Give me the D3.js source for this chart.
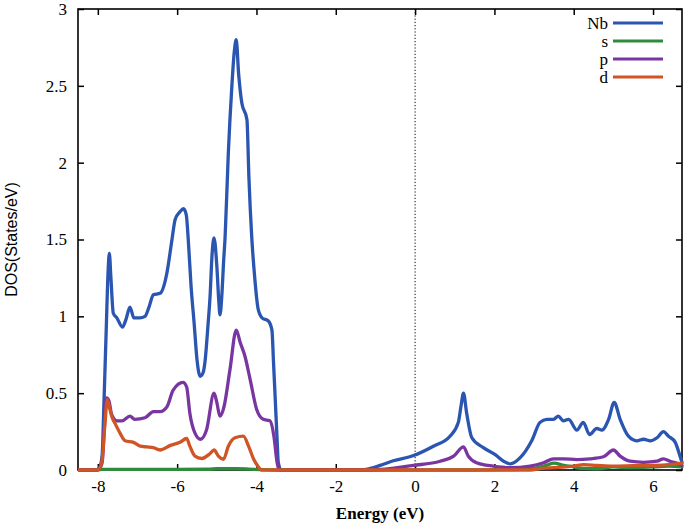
<!DOCTYPE html>
<html>
<head>
<meta charset="utf-8">
<script src="https://cdn.jsdelivr.net/npm/d3@7"></script>
<style>
  html, body { margin: 0; padding: 0; background: #fff; }
  svg { display: block; }
</style>
</head>
<body>
<svg id="chart" width="685" height="526"></svg>
<script>
// ---------- DATA ----------
const seriesNames = ["Nb", "s", "p", "d"];
const seriesColors = ["#2a55b0", "#2e8b3e", "#7a36a0", "#d05424"];

const xTicks = [-8, -6, -4, -2, 0, 2, 4, 6];
const yTicks = [0, 0.5, 1, 1.5, 2, 2.5, 3];

const nbEnergy = [-8.5, -8.03, -7.95, -7.89, -7.85, -7.79, -7.74, -7.71, -7.67, -7.61, -7.52, -7.38, -7.29, -7.19, -7.09, -6.94, -6.81, -6.71, -6.60, -6.43, -6.26, -6.13, -6.05, -5.93, -5.84, -5.77, -5.72, -5.65, -5.57, -5.50, -5.42, -5.35, -5.30, -5.22, -5.17, -5.12, -5.07, -5.00, -4.95, -4.92, -4.87, -4.83, -4.79, -4.71, -4.62, -4.56, -4.51, -4.45, -4.37, -4.24, -4.19, -4.12, -4.04, -3.96, -3.86, -3.70, -3.61, -3.57, -3.53, -3.48, -3.45, -3.38, -1.34, -1.13, -0.88, -0.55, -0.04, 0.46, 0.88, 1.09, 1.16, 1.22, 1.30, 1.43, 1.72, 2.02, 2.23, 2.40, 2.65, 2.94, 3.15, 3.32, 3.49, 3.61, 3.74, 3.87, 4.08, 4.24, 4.40, 4.58, 4.71, 4.88, 5.02, 5.17, 5.38, 5.59, 5.76, 5.93, 6.10, 6.26, 6.39, 6.56, 6.68, 6.73];
const nbValues = [0, 0, 0.02, 0.1, 0.4, 0.9, 1.3, 1.41, 1.25, 1.02, 0.99, 0.93, 0.98, 1.06, 0.99, 0.99, 1.0, 1.06, 1.14, 1.15, 1.28, 1.5, 1.63, 1.68, 1.70, 1.66, 1.50, 1.20, 0.95, 0.72, 0.61, 0.63, 0.70, 0.95, 1.13, 1.40, 1.51, 1.33, 1.10, 1.01, 1.15, 1.35, 1.52, 2.06, 2.50, 2.72, 2.80, 2.58, 2.39, 2.28, 1.90, 1.52, 1.24, 1.05, 0.99, 0.97, 0.91, 0.70, 0.48, 0.20, 0.05, 0, 0, 0.01, 0.03, 0.06, 0.094, 0.155, 0.22, 0.31, 0.42, 0.50, 0.37, 0.21, 0.146, 0.10, 0.057, 0.04, 0.08, 0.19, 0.31, 0.33, 0.33, 0.35, 0.32, 0.33, 0.26, 0.31, 0.23, 0.27, 0.26, 0.33, 0.44, 0.33, 0.22, 0.19, 0.20, 0.19, 0.21, 0.25, 0.22, 0.18, 0.09, 0.05];

const sEnergy = [-8.5, -8.0, -7.9, -6.0, -5.2, -5.0, -4.5, -4.2, -3.9, -3.5, 1.5, 2.5, 3.0, 3.3, 3.5, 3.75, 4.0, 4.25, 4.6, 5.0, 5.4, 6.0, 6.4, 6.73];
const sValues = [0, 0, 0.004, 0.004, 0.005, 0.008, 0.008, 0.006, 0.003, 0, 0, 0.003, 0.01, 0.03, 0.045, 0.03, 0.02, 0.01, 0.008, 0.02, 0.015, 0.02, 0.025, 0.02];

const pEnergy = [-8.5, -8.03, -7.93, -7.89, -7.83, -7.78, -7.72, -7.65, -7.52, -7.39, -7.19, -7.07, -6.81, -6.60, -6.43, -6.26, -6.10, -5.85, -5.76, -5.68, -5.55, -5.41, -5.26, -5.07, -5.00, -4.92, -4.82, -4.67, -4.51, -4.41, -4.29, -4.16, -3.99, -3.83, -3.66, -3.56, -3.48, -3.43, -1.1, -0.04, 0.63, 0.97, 1.22, 1.34, 1.55, 1.97, 2.40, 2.90, 3.24, 3.49, 3.74, 4.08, 4.41, 4.75, 5.00, 5.17, 5.42, 5.76, 6.10, 6.26, 6.43, 6.68, 6.73];
const pValues = [0, 0, 0.02, 0.05, 0.3, 0.47, 0.45, 0.36, 0.32, 0.32, 0.35, 0.33, 0.34, 0.38, 0.38, 0.41, 0.52, 0.57, 0.54, 0.37, 0.24, 0.20, 0.26, 0.50, 0.44, 0.35, 0.41, 0.65, 0.91, 0.83, 0.74, 0.59, 0.39, 0.33, 0.32, 0.22, 0.05, 0, 0, 0.03, 0.057, 0.09, 0.15, 0.09, 0.047, 0.025, 0.015, 0.025, 0.047, 0.073, 0.073, 0.068, 0.073, 0.086, 0.13, 0.09, 0.057, 0.05, 0.057, 0.073, 0.057, 0.036, 0.03];

const dEnergy = [-8.5, -8.0, -7.90, -7.82, -7.76, -7.70, -7.65, -7.56, -7.44, -7.31, -7.10, -6.93, -6.76, -6.60, -6.43, -6.17, -5.93, -5.76, -5.68, -5.55, -5.38, -5.17, -5.07, -4.96, -4.83, -4.71, -4.54, -4.33, -4.20, -4.07, -3.95, -3.88, 2.9, 3.2, 3.5, 3.8, 4.0, 4.25, 4.58, 5.0, 5.5, 6.0, 6.4, 6.73];
const dValues = [0, 0, 0.05, 0.3, 0.46, 0.40, 0.35, 0.30, 0.24, 0.19, 0.18, 0.155, 0.15, 0.145, 0.13, 0.16, 0.18, 0.205, 0.155, 0.09, 0.075, 0.107, 0.13, 0.09, 0.07, 0.155, 0.21, 0.22, 0.155, 0.07, 0.02, 0, 0, 0.01, 0.015, 0.02, 0.025, 0.035, 0.03, 0.025, 0.028, 0.03, 0.035, 0.045];

const xLabel = "Energy (eV)";
const yLabel = "DOS(States/eV)";

// ---------- LAYOUT ----------
const svg = d3.select("#chart");
const L = 78, R = 682, T = 9, B = 470;
const x = d3.scaleLinear().domain([-8.5, 6.73]).range([L, R]);
const y = d3.scaleLinear().domain([0, 3]).range([B, T]);
const serif = "'Liberation Serif', 'Times New Roman', serif";

svg.append("defs").append("clipPath").attr("id", "clip")
  .append("rect").attr("x", L).attr("y", T - 2).attr("width", R - L + 2).attr("height", B - T + 4);

// zero line
svg.append("line")
  .attr("x1", x(0)).attr("x2", x(0)).attr("y1", T).attr("y2", B)
  .attr("stroke", "#000").attr("stroke-width", 1).attr("stroke-dasharray", "1.2,2");

// axes (ticks inward)
const tickLen = 6;
const fmt = d => String(d);
const axBottom = d3.axisBottom(x).tickValues(xTicks).tickSize(-tickLen).tickPadding(10).tickFormat(fmt);
const axTop = d3.axisTop(x).tickValues(xTicks).tickSize(-tickLen).tickFormat("");
const axLeft = d3.axisLeft(y).tickValues(yTicks).tickSize(-tickLen).tickPadding(11).tickFormat(fmt);
const axRight = d3.axisRight(y).tickValues(yTicks).tickSize(-tickLen).tickFormat("");

function styleAxis(g) {
  g.select(".domain").remove();
  g.selectAll(".tick line").attr("stroke", "#000").attr("stroke-width", 1.5);
  g.selectAll(".tick text").attr("font-family", serif).attr("font-size", 17).attr("fill", "#000");
}
svg.append("g").attr("transform", `translate(0,${B})`).call(axBottom).call(styleAxis);
svg.append("g").attr("transform", `translate(0,${T})`).call(axTop).call(styleAxis);
svg.append("g").attr("transform", `translate(${L},0)`).call(axLeft).call(styleAxis);
svg.append("g").attr("transform", `translate(${R},0)`).call(axRight).call(styleAxis);

// frame
svg.append("rect").attr("x", L).attr("y", T).attr("width", R - L).attr("height", B - T)
  .attr("fill", "none").attr("stroke", "#000").attr("stroke-width", 1.6);

// series
const seriesData = [
  [nbEnergy, nbValues],
  [sEnergy, sValues],
  [pEnergy, pValues],
  [dEnergy, dValues]
];
const line = d3.line().x(d => x(d[0])).y(d => y(d[1])).curve(d3.curveMonotoneX);
const plot = svg.append("g").attr("clip-path", "url(#clip)");
seriesData.forEach((s, i) => {
  const pts = s[0].map((e, k) => [e, s[1][k]]);
  plot.append("path").datum(pts)
    .attr("d", line)
    .attr("fill", "none")
    .attr("stroke", seriesColors[i])
    .attr("stroke-width", 3.3)
    .attr("stroke-linejoin", "round")
    .attr("stroke-linecap", "round");
});

// legend
const legX = 608, legY0 = 23, legDy = 18;
seriesNames.forEach((n, i) => {
  const yy = legY0 + i * legDy;
  svg.append("text").attr("x", legX).attr("y", yy).attr("dy", "0.35em")
    .attr("text-anchor", "end").attr("font-family", serif).attr("font-size", 17)
    .text(n);
  svg.append("line").attr("x1", 613).attr("x2", 663).attr("y1", yy).attr("y2", yy)
    .attr("stroke", seriesColors[i]).attr("stroke-width", 3);
});

// axis labels
svg.append("text").attr("x", (L + R) / 2).attr("y", 519)
  .attr("text-anchor", "middle").attr("font-family", serif).attr("font-size", 17)
  .attr("font-weight", "bold").text(xLabel);
svg.append("text").attr("transform", `translate(17,${(T + B) / 2}) rotate(-90)`)
  .attr("text-anchor", "middle").attr("font-family", "'Liberation Sans', Arial, sans-serif")
  .attr("font-size", 16).text(yLabel);
</script>
</body>
</html>
